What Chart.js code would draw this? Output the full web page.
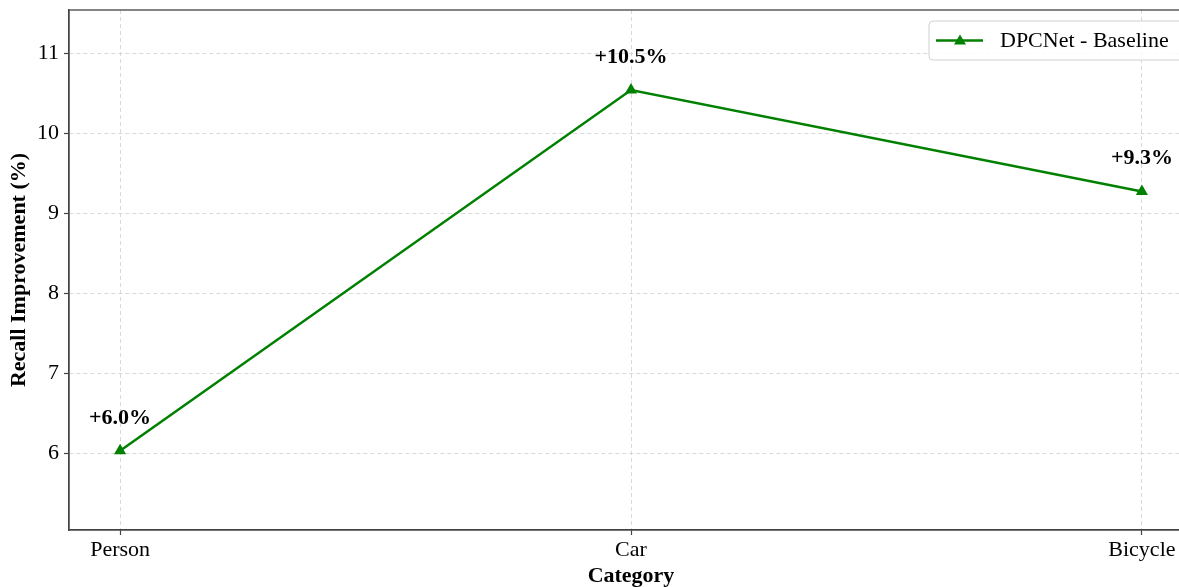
<!DOCTYPE html>
<html>
<head>
<meta charset="utf-8">
<script src="https://cdn.jsdelivr.net/npm/chart.js@4.4.1/dist/chart.umd.min.js"></script>
<style>
  html, body { margin: 0; padding: 0; background: #fff; overflow: hidden; }
  canvas { display: block; }
</style>
</head>
<body>
<canvas id="chart" width="1200" height="587"></canvas>
<script>
const categories = ['Person', 'Car', 'Bicycle'];
const improvement = [6.03, 10.54, 9.27];
const pointLabels = ['+6.0%', '+10.5%', '+9.3%'];
const seriesName = 'DPCNet - Baseline';

const green = '#008000';
const serif = "'Liberation Serif', 'Times New Roman', serif";

// cadre complet autour de la zone de tracé
const framePlugin = {
    id: 'frame',
    afterDraw(chart) {
        const { ctx, chartArea: a } = chart;
        ctx.save();
        ctx.strokeStyle = '#444';
        ctx.lineWidth = 1.3;
        ctx.strokeRect(a.left, a.top, a.right - a.left, a.bottom - a.top);
        ctx.restore();
    }
};

// étiquettes au-dessus des points
const labelPlugin = {
    id: 'pointLabels',
    afterDatasetsDraw(chart) {
        const { ctx, scales } = chart;
        ctx.save();
        ctx.font = 'bold 22px ' + serif;
        ctx.fillStyle = '#000';
        ctx.textAlign = 'center';
        ctx.textBaseline = 'middle';
        improvement.forEach((v, i) => {
            ctx.fillText(pointLabels[i], scales.x.getPixelForValue(i), scales.y.getPixelForValue(v + 0.41));
        });
        ctx.restore();
    }
};

// légende en haut à droite
const legendPlugin = {
    id: 'cornerLegend',
    afterDraw(chart) {
        const { ctx, chartArea: a } = chart;
        const x = a.right - 264, y = a.top + 11, w = 262, h = 39;
        ctx.save();
        ctx.fillStyle = 'rgba(255,255,255,0.85)';
        ctx.strokeStyle = '#d0d0d0';
        ctx.lineWidth = 1;
        ctx.beginPath();
        ctx.roundRect(x, y, w, h, 4);
        ctx.fill();
        ctx.stroke();
        const cy = y + h / 2;
        ctx.strokeStyle = green;
        ctx.lineWidth = 2.5;
        ctx.beginPath();
        ctx.moveTo(x + 7, cy);
        ctx.lineTo(x + 54, cy);
        ctx.stroke();
        ctx.fillStyle = green;
        ctx.beginPath();
        ctx.moveTo(x + 31, cy - 6);
        ctx.lineTo(x + 37, cy + 4);
        ctx.lineTo(x + 25, cy + 4);
        ctx.closePath();
        ctx.fill();
        ctx.fillStyle = '#000';
        ctx.font = '22px ' + serif;
        ctx.textBaseline = 'middle';
        ctx.fillText(seriesName, x + 71, cy + 1);
        ctx.restore();
    }
};

const gridStyle = {
    color: '#cfcfcf',
    lineWidth: 0.8,
    tickColor: '#444',
    tickLength: 5,
    tickWidth: 1.2,
    tickBorderDash: []
};

new Chart(document.getElementById('chart'), {
    type: 'line',
    data: {
        datasets: [{
            label: seriesName,
            data: improvement.map((v, i) => ({ x: i, y: v })),
            borderColor: green,
            backgroundColor: green,
            borderWidth: 2.5,
            pointStyle: 'triangle',
            pointRadius: 7,
            pointBorderWidth: 0,
            tension: 0
        }]
    },
    options: {
        responsive: false,
        animation: false,
        layout: { padding: { left: 0, top: 10, right: 2, bottom: 0 } },
        plugins: {
            legend: { display: false },
            tooltip: { enabled: false }
        },
        scales: {
            x: {
                type: 'linear',
                min: -0.1,
                max: 2.1,
                afterBuildTicks: s => { s.ticks = categories.map((c, i) => ({ value: i })); },
                afterFit: s => { s.height = 57; s.paddingLeft = 0; s.paddingRight = 0; },
                ticks: {
                    callback: v => categories[v],
                    color: '#000',
                    font: { family: serif, size: 22 },
                    padding: 2,
                    maxRotation: 0
                },
                grid: gridStyle,
                border: { display: true, color: '#444', width: 1.3, dash: [4, 3] },
                title: {
                    display: true,
                    text: 'Category',
                    color: '#000',
                    font: { family: serif, size: 22, weight: 'bold' },
                    padding: { top: 0, bottom: -3 }
                }
            },
            y: {
                min: 5.04,
                max: 11.54,
                afterBuildTicks: s => { s.ticks = [6, 7, 8, 9, 10, 11].map(v => ({ value: v })); },
                afterFit: s => { s.width = 69; s.paddingTop = 0; s.paddingBottom = 0; },
                ticks: {
                    color: '#000',
                    font: { family: serif, size: 22 },
                    padding: 5
                },
                grid: gridStyle,
                border: { display: true, color: '#444', width: 1.3, dash: [4, 3] },
                title: {
                    display: true,
                    text: 'Recall Improvement (%)',
                    color: '#000',
                    font: { family: serif, size: 22, weight: 'bold' },
                    padding: { top: 6, bottom: 0 }
                }
            }
        }
    },
    plugins: [framePlugin, labelPlugin, legendPlugin]
});
</script>
</body>
</html>
